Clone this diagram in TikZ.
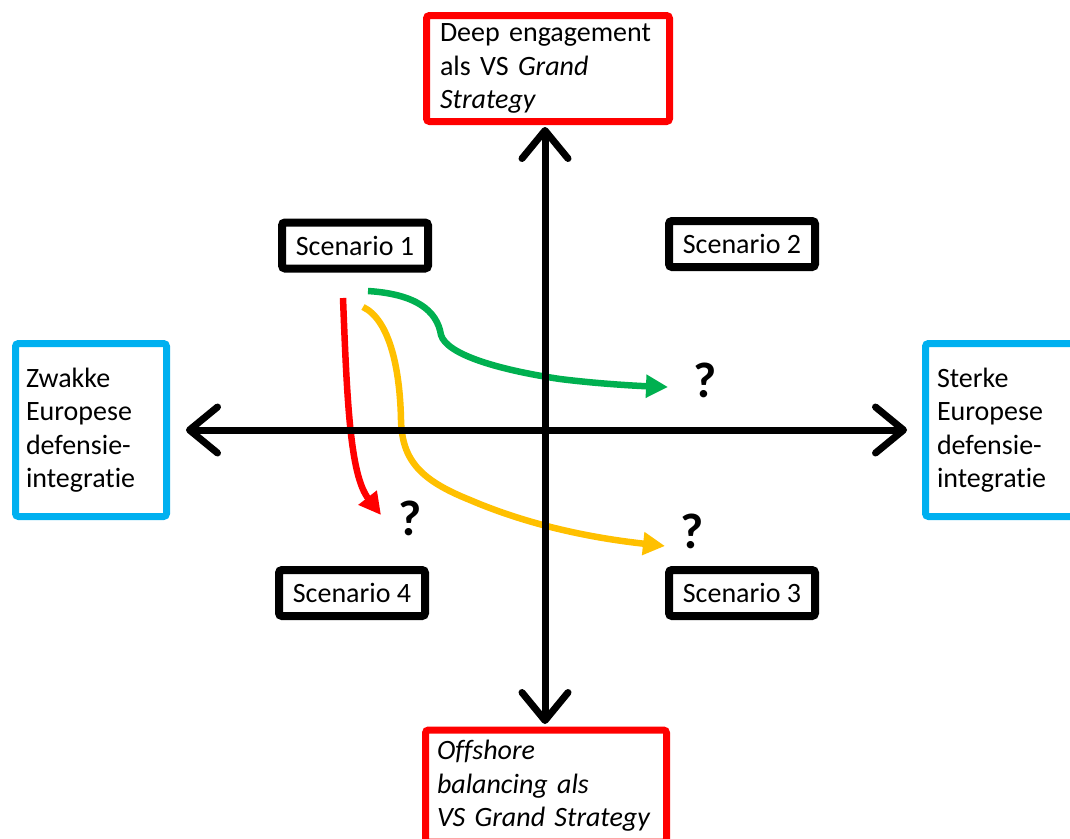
\documentclass[tikz,border=0pt]{standalone}
\usepackage{fontspec}
\setmainfont{Carlito}[Ligatures=NoCommon]
\usetikzlibrary{arrows.meta}
\definecolor{boxred}{RGB}{255,0,0}
\definecolor{boxblue}{RGB}{0,176,240}
\definecolor{arrgreen}{RGB}{0,176,80}
\definecolor{arryellow}{RGB}{255,192,0}
\definecolor{arrred}{RGB}{255,0,0}
\begin{document}
\begin{tikzpicture}[x=1pt,y=-1pt,
  every node/.style={font=\fontsize{28}{33.5}\selectfont},
  bigbox/.style={draw, line width=7pt, rounded corners=3pt, align=left, inner ysep=0pt},
  scen/.style={draw=black, line width=8pt, rounded corners=3pt, minimum width=146pt, minimum height=46pt, inner sep=0pt},
  axisline/.style={line width=7pt, line cap=round, line join=round,
    {Straight Barb[length=28pt,width=46pt,line cap=round,line join=round]}-{Straight Barb[length=28pt,width=46pt,line cap=round,line join=round]}},
  flow/.style={line width=6.5pt, -{Triangle[length=22pt,width=22pt]}},
  qmark/.style={font=\fontsize{50}{50}\selectfont\bfseries, inner sep=0pt}
]
\useasboundingbox (0,0) rectangle (1070,838);
\clip (0,0) rectangle (1070,838);

% boxes
\node[bigbox, draw=boxred, text width=216pt, inner xsep=13.5pt, minimum height=106pt] (top) at (548,68.5)
  {Deep~engagement\\als~VS~\textit{Grand}\\\textit{Strategy}};
\node[bigbox, draw=boxred, text width=218pt, inner xsep=11.5pt, minimum height=112pt] (bottom) at (546,786)
  {\textit{Offshore}\\\textit{balancing~als}\\\textit{VS~Grand~Strategy}};
\node[bigbox, draw=boxblue, text width=130pt, inner xsep=10.5pt, minimum height=173pt] (left) at (91,430)
  {Zwakke\\Europese\\defensie-\\integratie};
\node[bigbox, draw=boxblue, text width=128pt, inner xsep=11.5pt, minimum height=173pt] (right) at (1001,430)
  {Sterke\\Europese\\defensie-\\integratie};

\node[scen] (s1) at (355,245.5) {Scenario 1};
\node[scen] (s2) at (742,244) {Scenario 2};
\node[scen] (s4) at (352,593) {Scenario 4};
\node[scen] (s3) at (742,593) {Scenario 3};

% question marks
\node[qmark] (q1) at (705,380) {?};
\node[qmark] (q2) at (410,518) {?};
\node[qmark] (q3) at (692,531) {?};

% flow arrows
\coordinate (gS) at (368,291);
\coordinate (gE) at (668,387);
\coordinate (rS) at (343,298);
\coordinate (rE) at (381,515);
\coordinate (yS) at (363,307);
\coordinate (yE) at (665,546);

\draw[flow, arrgreen] (gS) .. controls (415,294) and (437,310) .. (441,335)
  .. controls (447,355) and (500,370) .. (560,379)
  .. controls (600,384) and (640,386) .. (gE);
\draw[flow, arrred] (rS) .. controls (347,400) and (350,475) .. (rE);
\draw[flow, arryellow] (yS) .. controls (390,320) and (400,370) .. (401,420)
  .. controls (402,460) and (420,480) .. (470,500)
  .. controls (540,530) and (610,540) .. (yE);

% axes
\coordinate (axT) at (545,127);
\coordinate (axB) at (545,724);
\coordinate (axL) at (186,430);
\coordinate (axR) at (907,430);
\draw[axisline] (axB) -- (axT);
\draw[axisline] (axR) -- (axL);
\end{tikzpicture}
\end{document}
